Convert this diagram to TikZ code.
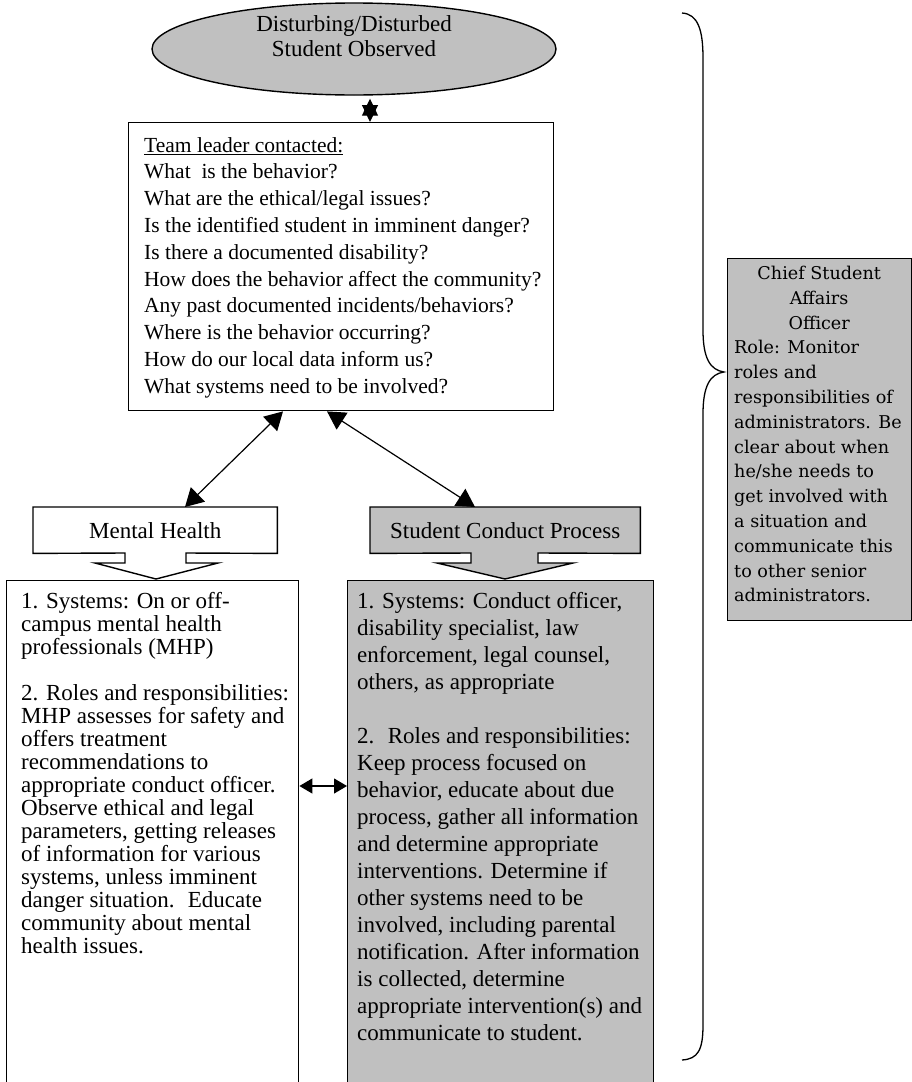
\documentclass[tikz,border=0pt]{standalone}
\usepackage{fontspec}
\setmainfont{Liberation Serif}
\newfontfamily\csaofont{DejaVu Serif}
\usetikzlibrary{arrows.meta,shapes.geometric,calc,backgrounds}
\definecolor{boxgray}{HTML}{C0C0C0}
\begin{document}
\begin{tikzpicture}[x=1pt,y=-1pt,
  frame/.style={draw=black,line width=1.4pt},
  bodytext/.style={align=left, inner sep=0pt, anchor=north west},
  link/.style={line width=1.2pt,{Triangle[length=18pt,width=20pt]}-{Triangle[length=18pt,width=20pt]}},
  smalllink/.style={line width=1.2pt,{Triangle[length=13pt,width=15pt]}-{Triangle[length=13pt,width=15pt]}},
  tinylink/.style={line width=1.2pt,{Triangle[length=17pt,width=16pt]}-{Triangle[length=17pt,width=16pt]}},
  blocklabel/.style={inner sep=0pt, anchor=north west, font=\fontsize{23}{27}\selectfont},
]
\useasboundingbox (0,0) rectangle (912,1082);
\clip (0,0) rectangle (912,1082);

% observed ellipse
\node[ellipse, frame, fill=boxgray, minimum width=404pt, minimum height=92pt, inner sep=0pt] (obs) at (354,49) {};
\node[align=center, inner sep=0pt, font=\fontsize{23}{24.5}\selectfont] (obstext) at (354,36)
      {Disturbing/Disturbed\\Student Observed};

% team leader box
\node[frame, fill=white, minimum width=425pt, minimum height=288pt, anchor=north west, inner sep=0pt] (team) at (128,122) {};
\node[bodytext, font=\fontsize{21.5}{26.8}\selectfont] (teamtext) at (144,137)
 {\underline{Team leader contacted:}\\
  What \ is the behavior?\\
  What are the ethical/legal issues?\\
  Is the identified student in imminent danger?\\
  Is there a documented disability?\\
  How does the behavior affect the community?\\
  Any past documented incidents/behaviors?\\
  Where is the behavior occurring?\\
  How do our local data inform us?\\
  What systems need to be involved?};

% block arrows
\node[blocklabel, minimum width=244pt, minimum height=46pt, anchor=north west] (mh) at (33,507) {Mental Health};
\node[blocklabel, minimum width=270pt, minimum height=46pt, anchor=north west] (sc) at (370,507) {Student Conduct Process};
\begin{scope}[on background layer]
\draw[frame, fill=white] (mh.north west) -- (mh.north east) -- (mh.south east) -- (186,553) -- (186,563)
  -- (218,563) -- (156,579) -- (95,563) -- (125,563) -- (125,553) -- (mh.south west) -- cycle;
\draw[frame, fill=boxgray] (sc.north west) -- (sc.north east) -- (sc.south east) -- (538,553) -- (538,563)
  -- (573,563) -- (505,579) -- (437,563) -- (471,563) -- (471,553) -- (sc.south west) -- cycle;
\end{scope}

% bottom boxes
\node[frame, fill=white, minimum width=292pt, minimum height=530pt, anchor=north west, inner sep=0pt] (lb) at (6,580) {};
\node[frame, fill=boxgray, minimum width=306pt, minimum height=530pt, anchor=north west, inner sep=0pt] (rb) at (347,580) {};

\node[bodytext, font=\fontsize{23}{23}\selectfont] (lbtext) at (21,592)
 {1. Systems: On or off-\\
  campus mental health\\
  professionals (MHP)\\[23pt]
  2. Roles and responsibilities:\\
  MHP assesses for safety and\\
  offers treatment\\
  recommendations to\\
  appropriate conduct officer.\\
  Observe ethical and legal\\
  parameters, getting releases\\
  of information for various\\
  systems, unless imminent\\
  danger situation. \ Educate\\
  community about mental\\
  health issues.};

\node[bodytext, font=\fontsize{23}{27}\selectfont] (rbtext) at (357,592)
 {1. Systems: Conduct officer,\\
  disability specialist, law\\
  enforcement, legal counsel,\\
  others, as appropriate\\[27pt]
  2. \ Roles and responsibilities:\\
  Keep process focused on\\
  behavior, educate about due\\
  process, gather all information\\
  and determine appropriate\\
  interventions. Determine if\\
  other systems need to be\\
  involved, including parental\\
  notification. After information\\
  is collected, determine\\
  appropriate intervention(s) and\\
  communicate to student.};

% chief student affairs officer
\node[frame, fill=boxgray, minimum width=184pt, minimum height=362pt, anchor=north west, inner sep=0pt] (csao) at (727,258) {};
\node[inner sep=0pt, anchor=north west, align=left,
      font=\csaofont\fontsize{17.6}{24.8}\selectfont] (csaotext) at (734,266)
 {\makebox[170pt][c]{Chief Student}\\
  \makebox[170pt][c]{Affairs}\\
  \makebox[170pt][c]{Officer}\\
  Role: Monitor\\
  roles and\\
  responsibilities of\\
  administrators. Be\\
  clear about when\\
  he/she needs to\\
  get involved with\\
  a situation and\\
  communicate this\\
  to other senior\\
  administrators.};

% connectors
\coordinate (teamL) at ($(team.south west)+(155,0)$);
\coordinate (teamR) at ($(team.south west)+(199,0)$);
\coordinate (mhT) at ($(mh.north west)+(152,0)$);
\coordinate (scT) at ($(sc.north west)+(105,0)$);
\coordinate (obsB) at ($(obs.south)+(16,3)$);
\draw[tinylink] (obsB) -- (obsB |- team.north);
\draw[link] (teamL) -- (mhT);
\draw[link] (teamR) -- (scT);
\coordinate (midy) at (0,786);
\draw[smalllink] (lb.north east |- midy) -- (rb.north west |- midy);

% brace
\draw[line width=1.3pt] (682,13) .. controls (698,14) and (703,30) .. (703,58) -- (703,330)
  .. controls (703,358) and (710,370) .. (724,372)
  .. controls (710,374) and (703,386) .. (703,414) -- (703,1025)
  .. controls (703,1050) and (698,1059) .. (682,1060);
\end{tikzpicture}
\end{document}
